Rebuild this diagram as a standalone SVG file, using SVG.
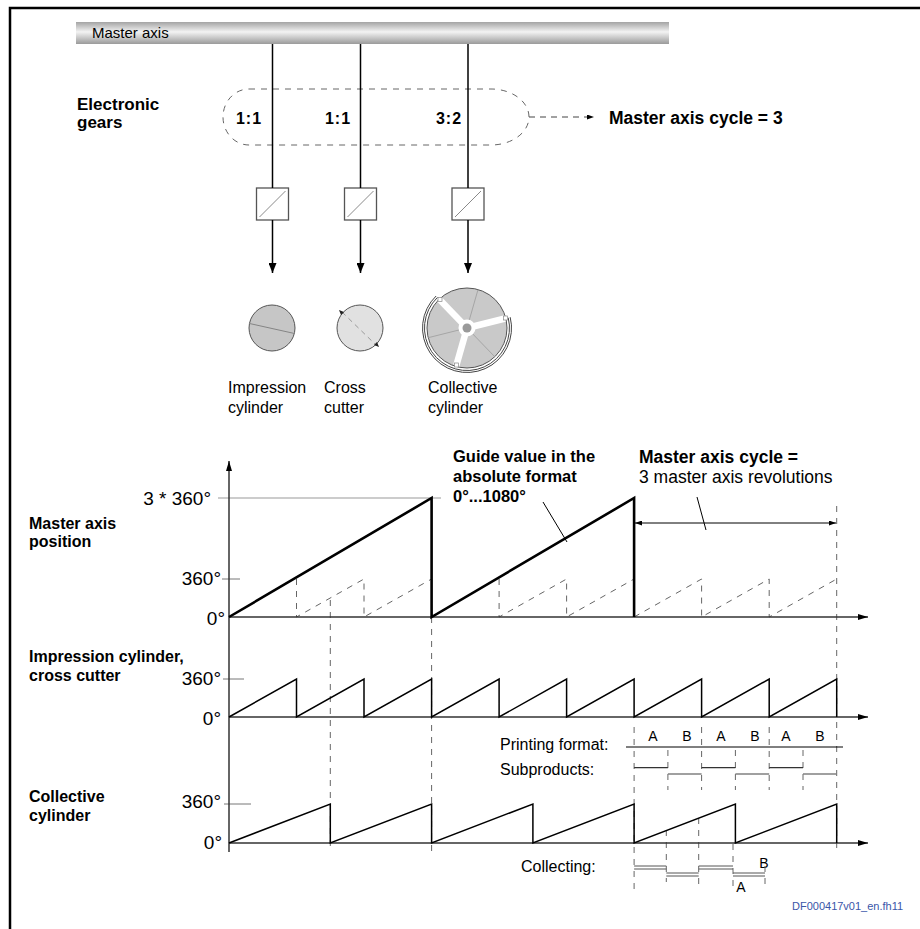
<svg xmlns="http://www.w3.org/2000/svg" width="920" height="929" viewBox="0 0 920 929">
<defs>
  <linearGradient id="barGrad" x1="0" y1="0" x2="0" y2="1">
    <stop offset="0" stop-color="#a4a4a4"/>
    <stop offset="0.45" stop-color="#f3f3f3"/>
    <stop offset="1" stop-color="#9a9a9a"/>
  </linearGradient>
  <marker id="ahDown" viewBox="0 0 10 8" refX="10" refY="4" markerWidth="10" markerHeight="8" markerUnits="userSpaceOnUse" orient="auto">
    <path d="M0,0 L10,4 L0,8 z" fill="#000"/>
  </marker>
  <marker id="ahAxis" viewBox="0 0 10 6" refX="10" refY="3" markerWidth="10" markerHeight="6" markerUnits="userSpaceOnUse" orient="auto">
    <path d="M0,0 L10,3 L0,6 z" fill="#000"/>
  </marker>
  <marker id="ahSmall" viewBox="0 0 7 5" refX="7" refY="2.5" markerWidth="7" markerHeight="5" markerUnits="userSpaceOnUse" orient="auto-start-reverse">
    <path d="M0,0 L7,2.5 L0,5 z" fill="#000"/>
  </marker>
</defs>
<style>
  text { font-family: "Liberation Sans", Arial, Helvetica, sans-serif; fill: #000; }
  .b { font-weight: bold; }
  .lbl { font-size: 16px; }
  .big { font-size: 19px; }
  .ratio { font-size: 16px; font-weight: bold; text-anchor: middle; letter-spacing: 1px; }
  .ab { font-size: 14px; text-anchor: middle; }
  .frame { stroke: #000; stroke-width: 2.5; fill: none; }
  .shaft { stroke: #000; stroke-width: 1.5; fill: none; }
  .box { fill: #fff; stroke: #555; stroke-width: 1.3; }
  .diag { stroke: #8a8a8a; stroke-width: 1; }
  .dash { stroke: #666; stroke-width: 1; fill: none; stroke-dasharray: 6 6; }
  .axis { stroke: #333; stroke-width: 1.5; fill: none; }
  .tick { stroke: #777; stroke-width: 1; }
  .saw { stroke: #000; stroke-width: 1.5; fill: none; stroke-linejoin: miter; }
  .sawBold { stroke: #000; stroke-width: 2.6; fill: none; }
  .thin { stroke: #000; stroke-width: 1; fill: none; }
  .subA { stroke: #333; stroke-width: 1.2; }
  .subB { stroke: #808080; stroke-width: 1.4; }
  .coll { stroke: #555; stroke-width: 1; }
</style>

<!-- page frame -->
<path class="frame" d="M10,929 V8 H920"/>

<!-- master axis bar -->
<g id="master-axis">
  <rect x="76" y="22" width="593" height="22" fill="url(#barGrad)"/>
  <text x="92" y="38" class="lbl" style="font-size:15px">Master axis</text>
</g>

<!-- electronic gears -->
<g id="electronic-gears">
  <text x="77" y="110" class="b" style="font-size:17px">Electronic</text>
  <text x="77" y="128" class="b" style="font-size:17px">gears</text>
  <path class="dash" stroke="#555" d="M249,89 H491 A38,28 0 0 1 491,145 H249 A26,28 0 0 1 249,89 Z"/>
  <text x="249" y="124" class="ratio">1:1</text>
  <text x="338" y="124" class="ratio">1:1</text>
  <text x="449" y="124" class="ratio">3:2</text>
</g>

<g id="cycle-note">
  <text x="609" y="124" class="b" style="font-size:17.5px">Master axis cycle = 3</text>
</g>

<!-- converters -->
<g id="converter-1"><rect class="box" x="256.5" y="188" width="32" height="32"/><line class="diag" x1="259.5" y1="217" x2="285.5" y2="191"/></g>
<g id="converter-2"><rect class="box" x="344.5" y="188" width="32" height="32"/><line class="diag" x1="347.5" y1="217" x2="373.5" y2="191"/></g>
<g id="converter-3"><rect class="box" x="452" y="188" width="32" height="32"/><line class="diag" x1="455" y1="217" x2="481" y2="191"/></g>

<!-- impression cylinder -->
<g id="impression-cylinder">
  <circle cx="272" cy="328" r="23" fill="#c6c6c6" stroke="#555" stroke-width="1"/>
  <line x1="249.5" y1="323.5" x2="294.5" y2="333.5" stroke="#858585" stroke-width="1"/>
  <text x="228" y="393" class="lbl">Impression</text>
  <text x="228" y="413" class="lbl">cylinder</text>
</g>

<!-- cross cutter -->
<g id="cross-cutter">
  <circle cx="360" cy="328" r="23" fill="#e1e1e1" stroke="#555" stroke-width="1"/>
  <line x1="342" y1="312" x2="376" y2="345" stroke="#9a9a9a" stroke-width="1" stroke-dasharray="5 4"/>
  <path d="M339,310 L344,312 L341,315 z" fill="#222"/>
  <path d="M379,347 L374,345 L377,342 z" fill="#222"/>
  <text x="324" y="393" class="lbl">Cross</text>
  <text x="324" y="413" class="lbl">cutter</text>
</g>

<!-- collective cylinder -->
<g id="collective-cylinder">
  <circle cx="467" cy="328" r="40" fill="#c9c9c9" stroke="#555" stroke-width="1"/>
  <path d="M437.5,297.4 A42.5,42.5 0 1 0 508.2,317.7" fill="none" stroke="#444" stroke-width="1"/>
  <path d="M436.1,296.0 A44.5,44.5 0 1 0 510.2,317.2" fill="none" stroke="#444" stroke-width="1"/>
  <g stroke="#9c9c9c" stroke-width="0.8">
    <line x1="467" y1="328" x2="494.8" y2="356.8"/>
    <line x1="467" y1="328" x2="428.2" y2="337.7"/>
    <line x1="467" y1="328" x2="478" y2="289.6"/>
  </g>
  <g stroke="#fff" stroke-width="6.5">
    <line x1="467" y1="328" x2="456.3" y2="365.5"/>
    <line x1="467" y1="328" x2="439.8" y2="299.8"/>
    <line x1="467" y1="328" x2="505" y2="318.5"/>
  </g>
  <g fill="#fff" stroke="#888" stroke-width="0.7">
    <rect x="454.5" y="363" width="4" height="4"/>
    <rect x="438" y="297.5" width="4" height="4"/>
    <rect x="503.5" y="316" width="4" height="4"/>
  </g>
  <circle cx="467" cy="328" r="8.5" fill="#fff"/>
  <circle cx="467" cy="328" r="4.5" fill="#9a9a9a"/>
  <text x="428" y="393" class="lbl">Collective</text>
  <text x="428" y="413" class="lbl">cylinder</text>
</g>

<!-- connectors of the upper part -->
<g id="connectors">
  <line class="shaft" x1="272.5" y1="44" x2="272.5" y2="188"/>
  <line class="shaft" x1="360.5" y1="44" x2="360.5" y2="188"/>
  <line class="shaft" x1="468" y1="44" x2="468" y2="188"/>
  <line class="shaft" x1="272.5" y1="220" x2="272.5" y2="273" marker-end="url(#ahDown)"/>
  <line class="shaft" x1="360.5" y1="220" x2="360.5" y2="273" marker-end="url(#ahDown)"/>
  <line class="shaft" x1="468" y1="220" x2="468" y2="273" marker-end="url(#ahDown)"/>
  <line x1="529" y1="117" x2="594" y2="117" stroke="#444" stroke-width="1" stroke-dasharray="6 5" marker-end="url(#ahSmall)"/>
</g>

<!-- time charts -->
<g id="chart-labels">
  <text x="29" y="529" class="b lbl">Master axis</text>
  <text x="29" y="547" class="b lbl">position</text>
  <text x="29" y="662" class="b lbl">Impression cylinder,</text>
  <text x="29" y="681" class="b lbl">cross cutter</text>
  <text x="29" y="802" class="b lbl">Collective</text>
  <text x="29" y="821" class="b lbl">cylinder</text>

  <text x="211" y="505" class="big" text-anchor="end">3 * 360°</text>
  <text x="221" y="585" class="big" text-anchor="end">360°</text>
  <text x="225" y="625" class="big" text-anchor="end">0°</text>
  <text x="221" y="685" class="big" text-anchor="end">360°</text>
  <text x="221" y="725" class="big" text-anchor="end">0°</text>
  <text x="221" y="808" class="big" text-anchor="end">360°</text>
  <text x="222" y="849" class="big" text-anchor="end">0°</text>
</g>

<g id="guide-value-note">
  <text x="453" y="462" class="b" style="font-size:16.5px">Guide value in the</text>
  <text x="453" y="482" class="b" style="font-size:16.5px">absolute format</text>
  <text x="453" y="502" class="b" style="font-size:16.5px">0°...1080°</text>
</g>

<g id="cycle-length-note">
  <text x="639" y="463" class="b" style="font-size:17.5px">Master axis cycle =</text>
  <text x="639" y="483" style="font-size:17.5px">3 master axis revolutions</text>
</g>

<g id="printing-labels">
  <text x="500" y="750" class="lbl">Printing format:</text>
  <text x="500" y="775" class="lbl">Subproducts:</text>
  <text x="653" y="741" class="ab">A</text>
  <text x="687" y="741" class="ab">B</text>
  <text x="721" y="741" class="ab">A</text>
  <text x="755" y="741" class="ab">B</text>
  <text x="786" y="741" class="ab">A</text>
  <text x="820" y="741" class="ab">B</text>
  <text x="521" y="872" class="lbl">Collecting:</text>
  <text x="764" y="868" class="ab">B</text>
  <text x="741" y="892" class="ab">A</text>
</g>

<g id="chart-lines">
  <!-- reference and tick lines -->
  <line x1="218" y1="498" x2="441" y2="498" stroke="#999" stroke-width="1"/>
  <line class="tick" x1="222" y1="579" x2="240" y2="579"/>
  <line class="tick" x1="223" y1="679" x2="244" y2="679"/>
  <line class="tick" x1="224" y1="804" x2="251" y2="804"/>

  <!-- dashed time markers -->
  <line class="dash" x1="330.3" y1="600" x2="330.3" y2="852"/>
  <line class="dash" x1="431.6" y1="617" x2="431.6" y2="852"/>
  <line class="dash" x1="836.7" y1="506" x2="836.7" y2="852"/>
  <line class="dash" x1="634.1" y1="727" x2="634.1" y2="890"/>
  <line class="dash" x1="701.6" y1="727" x2="701.6" y2="790"/>
  <line class="dash" x1="769.2" y1="727" x2="769.2" y2="790"/>
  <line class="dash" x1="667.9" y1="750" x2="667.9" y2="790"/>
  <line class="dash" x1="735.4" y1="750" x2="735.4" y2="790"/>
  <line class="dash" x1="803" y1="750" x2="803" y2="790"/>
  <line class="dash" x1="666.3" y1="830" x2="666.3" y2="882"/>
  <line class="dash" x1="698.7" y1="818" x2="698.7" y2="884"/>
  <line class="dash" x1="733" y1="844" x2="733" y2="888"/>
  <line class="dash" x1="765" y1="866" x2="765" y2="890"/>

  <!-- single revolutions of the master axis -->
  <path class="dash" d="M296.5,579 V617 L364,579 V617 L431.6,579"/>
  <path class="dash" d="M499.1,579 V617 L566.6,579 V617 L634.1,579"/>
  <path class="dash" d="M634.1,617 L701.6,579 V617 L769.2,579 V617 L836.7,579"/>

  <!-- axes -->
  <line class="axis" x1="229" y1="852" x2="229" y2="461" marker-end="url(#ahAxis)"/>
  <line class="axis" x1="229" y1="617" x2="868" y2="617" marker-end="url(#ahAxis)"/>
  <line class="axis" x1="229" y1="717" x2="868" y2="717" marker-end="url(#ahAxis)"/>
  <line class="axis" x1="229" y1="843" x2="868" y2="843" marker-end="url(#ahAxis)"/>

  <!-- master axis position 0°...1080° -->
  <path class="sawBold" d="M229,617 L431.6,498 V617 L634.1,498 V617"/>

  <!-- impression cylinder / cross cutter -->
  <path class="saw" d="M229,717 L296.5,679 V717 L364,679 V717 L431.6,679 V717 L499.1,679 V717 L566.6,679 V717 L634.1,679 V717 L701.6,679 V717 L769.2,679 V717 L836.7,679 V717"/>

  <!-- collective cylinder -->
  <path class="saw" d="M229,843 L330.3,804 V843 L431.6,804 V843 L532.9,804 V843 L634.1,804 V843 L735.4,804 V843 L836.7,804 V843"/>

  <!-- annotation pointers and cycle dimension -->
  <line class="thin" x1="543" y1="502" x2="567" y2="542"/>
  <line class="thin" x1="697" y1="497" x2="706" y2="530"/>
  <line class="thin" x1="635" y1="523" x2="836" y2="523" marker-start="url(#ahSmall)" marker-end="url(#ahSmall)"/>

  <!-- printing format and subproducts -->
  <line class="thin" x1="626" y1="747" x2="843" y2="747"/>
  <line class="subA" x1="634.1" y1="767.7" x2="667.9" y2="767.7"/>
  <line class="subB" x1="667.9" y1="774" x2="701.6" y2="774"/>
  <line class="subA" x1="701.6" y1="767.7" x2="735.4" y2="767.7"/>
  <line class="subB" x1="735.4" y1="774" x2="769.2" y2="774"/>
  <line class="subA" x1="769.2" y1="767.7" x2="803" y2="767.7"/>
  <line class="subB" x1="803" y1="774" x2="836.7" y2="774"/>

  <!-- collecting -->
  <line class="coll" x1="634.1" y1="866" x2="666.3" y2="866"/>
  <line class="coll" x1="634.1" y1="869" x2="666.3" y2="869"/>
  <line class="coll" x1="666.3" y1="873" x2="698.7" y2="873"/>
  <line class="coll" x1="666.3" y1="876" x2="698.7" y2="876"/>
  <line class="coll" x1="698.7" y1="866" x2="733" y2="866"/>
  <line class="coll" x1="698.7" y1="869" x2="733" y2="869"/>
  <line class="coll" x1="733" y1="873" x2="765" y2="873"/>
  <line class="coll" x1="733" y1="876" x2="765" y2="876"/>
</g>

<text x="792" y="910" style="font-size:11px;fill:#3a56a8">DF000417v01_en.fh11</text>
</svg>
